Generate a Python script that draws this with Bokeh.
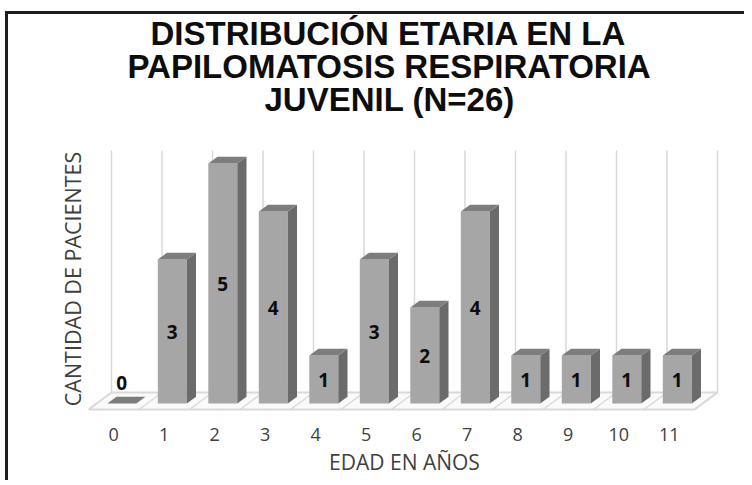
from bokeh.plotting import figure
from bokeh.models import FixedTicker, Range1d, ColumnDataSource, Title
from bokeh.core.properties import value
from bokeh.embed import file_html
from bokeh.resources import INLINE

# ---------------- data ----------------
ages = [0, 1, 2, 3, 4, 5, 6, 7, 8, 9, 10, 11]
age_labels = ["0", "1", "2", "3", "4", "5", "6", "7", "8", "9", "10", "11"]
patients = [0, 3, 5, 4, 1, 3, 2, 4, 1, 1, 1, 1]
title_lines = ["DISTRIBUCIÓN ETARIA EN LA", "PAPILOMATOSIS RESPIRATORIA", "JUVENIL (N=26)"]
x_label = "EDAD EN AÑOS"
y_label = "CANTIDAD DE PACIENTES"

# ---------------- geometry (pixel -> data units) ----------------
PX_X = 50.5          # pixels per category
PX_Y = 48.0          # pixels per patient
FRAME_W, FRAME_H = 632, 267
floor_dx = 23 / PX_X  # full depth of floor
floor_dy = 17 / PX_Y
base_t = 0.35         # bar front position in depth
bar_dx = 9.2 / PX_X
bar_dy = 6.8 / PX_Y
half_w = 14.5 / PX_X
bx_off = base_t * floor_dx
base_y = base_t * floor_dy
wall_top = 259 / PX_Y

x0 = -0.5
y0 = -3 / PX_Y

p = figure(width=736, height=466, frame_width=FRAME_W, frame_height=FRAME_H,
           x_range=Range1d(x0, x0 + FRAME_W / PX_X),
           y_range=Range1d(y0, y0 + FRAME_H / PX_Y),
           min_border_left=80, min_border_right=24, min_border_top=131,
           min_border_bottom=68, output_backend="svg", toolbar_location=None)
p.styles = {"border-top": "3px solid #1e1e1e", "border-left": "3px solid #1e1e1e",
            "margin-left": "5px", "margin-top": "11px"}
p.outline_line_color = None
p.xgrid.visible = False
p.ygrid.visible = False
p.background_fill_color = "white"
p.border_fill_color = "white"
p.title.visible = False

# title: items stack upward from the frame; a blank spacer first
p.add_layout(Title(text=" ", text_font_size="16px", standoff=20), "above")
title_offsets = [62, 39, 176]      # left offsets (px) so each line is centred like the original
title_standoffs = [-22, 10, -22]
for line, off, so in reversed(list(zip(title_lines, title_offsets, title_standoffs))):
    p.add_layout(Title(text=line, align="left", offset=off, text_font="Liberation Sans",
                       text_font_style="bold", text_font_size="33px", text_color="#0d0d0d",
                       standoff=so), "above")

# floor
left = ages[0] - 0.5
right = ages[-1] + 0.5
p.patch([left, right, right + floor_dx, left + floor_dx],
        [0, 0, floor_dy, floor_dy], fill_color="#fafafa", line_color="#d9d9d9", line_width=2)
bounds = [a - 0.5 for a in ages] + [ages[-1] + 0.5]
p.segment(x0=bounds, y0=[0] * len(bounds), x1=[b + floor_dx for b in bounds],
          y1=[floor_dy] * len(bounds), line_color="#d9d9d9", line_width=1.5)
# back wall gridlines
p.segment(x0=[b + floor_dx for b in bounds], y0=[floor_dy] * len(bounds),
          x1=[b + floor_dx for b in bounds], y1=[wall_top] * len(bounds),
          line_color="#d9d9d9", line_width=1.5)

# bars
front_xs, front_ys, side_xs, side_ys, top_xs, top_ys = [], [], [], [], [], []
for a, v in zip(ages, patients):
    xl = a + bx_off - half_w
    xr = a + bx_off + half_w
    yb = base_y
    yt = base_y + v
    if v > 0:
        front_xs.append([xl, xr, xr, xl]); front_ys.append([yb, yb, yt, yt])
        side_xs.append([xr, xr + bar_dx, xr + bar_dx, xr]); side_ys.append([yb, yb + bar_dy, yt + bar_dy, yt])
    top_xs.append([xl, xr, xr + bar_dx, xl + bar_dx]); top_ys.append([yt, yt, yt + bar_dy, yt + bar_dy])

p.patches(front_xs, front_ys, fill_color="#a6a6a6", line_color=None)
p.patches(side_xs, side_ys, fill_color="#6b6b6b", line_color=None)
p.patches(top_xs, top_ys, fill_color="#7d7d7d", line_color=None)

# value labels
lab_x = [a + bx_off for a in ages]
lab_y = [base_y + v / 2 if v > 0 else base_y + 21 / PX_Y for v in patients]
src = ColumnDataSource(dict(x=lab_x, y=lab_y, t=[str(v) for v in patients]))
p.text(x="x", y="y", text="t", source=src, text_align="center", text_baseline="middle",
       text_font=value("Open Sans"), text_font_style="bold", text_font_size="19px",
       text_color="#0d0d0d")

# axes
p.xaxis.ticker = FixedTicker(ticks=ages)
p.xaxis.major_label_overrides = {a: l for a, l in zip(ages, age_labels)}
p.xaxis.axis_line_color = None
p.xaxis.major_tick_line_color = None
p.xaxis.minor_tick_line_color = None
p.xaxis.major_label_text_font = "Open Sans"
p.xaxis.major_label_text_font_size = "18px"
p.xaxis.major_label_text_color = "#404040"
p.xaxis.major_label_standoff = 9
p.xaxis.axis_label = x_label
p.xaxis.axis_label_text_font = "Open Sans"
p.xaxis.axis_label_text_font_style = "normal"
p.xaxis.axis_label_text_font_size = "21px"
p.xaxis.axis_label_text_color = "#404040"
p.xaxis.axis_label_standoff = 4

p.yaxis.ticker = FixedTicker(ticks=[])
p.yaxis.axis_line_color = None
p.yaxis.major_tick_line_color = None
p.yaxis.minor_tick_line_color = None
p.yaxis.axis_label = y_label
p.yaxis.axis_label_text_font = "Open Sans"
p.yaxis.axis_label_text_font_style = "normal"
p.yaxis.axis_label_text_font_size = "21.5px"
p.yaxis.axis_label_text_color = "#404040"
p.yaxis.axis_label_standoff = 2

open("out.html", "w").write(file_html(p, INLINE))
